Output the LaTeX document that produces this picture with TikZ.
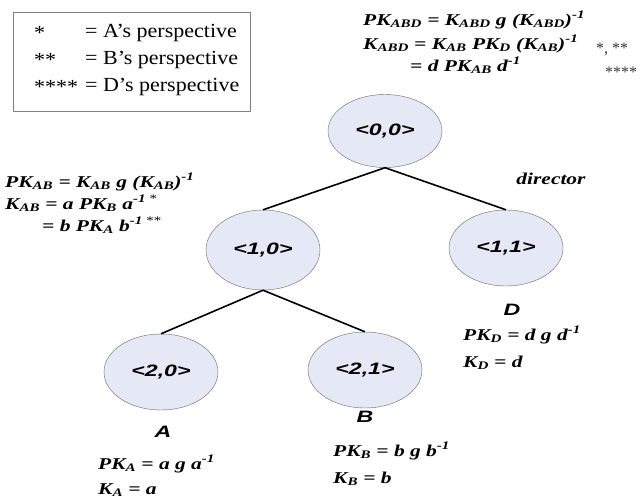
\documentclass[tikz,border=0pt]{standalone}
\usepackage{fontspec}
\setmainfont{Liberation Serif}
\newfontfamily\lblfont[FakeStretch=1.4]{Liberation Sans}
\newfontfamily\eqfont[FakeStretch=1.3]{Liberation Serif}
\newfontfamily\legfont[FakeStretch=1.1]{Liberation Serif}
\usetikzlibrary{shapes.geometric}
\definecolor{nodefill}{RGB}{228,233,245}
\definecolor{nodeedge}{RGB}{105,105,105}
\newcommand{\subx}[1]{\textsubscript{#1}}
\newcommand{\supx}[1]{\textsuperscript{#1}}
\tikzset{
  vnode/.style={ellipse, draw=nodeedge, fill=nodefill, minimum width=114, minimum height=76, inner sep=0,
    font=\lblfont\bfseries\itshape\fontsize{16.5}{18}\selectfont},
  who/.style={inner sep=0, font=\lblfont\bfseries\itshape\fontsize{16.5}{18}\selectfont},
  eq/.style={inner sep=0, anchor=base west, font=\eqfont\bfseries\itshape\fontsize{16.5}{19}\selectfont},
  star/.style={inner sep=0, anchor=west, text=black!80, font=\rmfamily\fontsize{16}{18}\selectfont},
  legtext/.style={inner sep=0, anchor=west, font=\legfont\fontsize{20}{24}\selectfont},
  edge/.style={line width=1.6pt}
}
\begin{document}
\begin{tikzpicture}[x=1pt, y=-1pt]
\useasboundingbox (0,0) rectangle (641,499);

% Legend
\draw[gray, line width=0.8pt] (13,12) rectangle (250,111);
\node[legtext] (s1) at (34,33) {*};
\node[legtext] (s2) at (34,60) {**};
\node[legtext] (s4) at (34,87) {****};
\node[legtext] (l1) at (85,33) {= A’s perspective};
\node[legtext] (l2) at (85,60) {= B’s perspective};
\node[legtext] (l4) at (85,87) {= D’s perspective};

% Tree nodes
\node[vnode, minimum height=73] (n00) at (385,131) {<0,0>};
\node[vnode, minimum height=80] (n10) at (263,250) {<1,0>};
\node[vnode] (n11) at (506,248) {<1,1>};
\node[vnode] (n20) at (161,372) {<2,0>};
\node[vnode] (n21) at (365,370) {<2,1>};

\draw[edge] (n00.south) -- (n10.north);
\draw[edge] (n00.south) -- (n11.north);
\draw[edge] (n10.south) -- (n20.north);
\draw[edge] (n10.south) -- (n21.north);

% Key of the root
\node[eq] (r1) at (363,25) {PK\subx{ABD} = K\subx{ABD} g (K\subx{ABD})\supx{-1}};
\node[eq] (r2) at (363,49) {K\subx{ABD} = K\subx{AB} PK\subx{D} (K\subx{AB})\supx{-1}};
\node[eq] (r3) at (410,71) {= d PK\subx{AB} d\supx{-1}};
\node[star] (r2s) at (596,49) {*, **};
\node[star] (r3s) at (605,72) {****};

% Key of <1,0>
\node[eq] (m1) at (5,187) {PK\subx{AB} = K\subx{AB} g (K\subx{AB})\supx{-1}};
\node[eq] (m2) at (5,209) {K\subx{AB} = a PK\subx{B} a\supx{-1}\,\textsuperscript{\mdseries *}};
\node[eq] (m3) at (42,231) {= b PK\subx{A} b\supx{-1}\,\textsuperscript{\mdseries **}};

\node[eq, anchor=center] (dir) at (551,179) {director};

% Leaves
\node[who] (la) at (163,432) {A};
\node[eq] (a1) at (98,469) {PK\subx{A} = a g a\supx{-1}};
\node[eq] (a2) at (98,494) {K\subx{A} = a};

\node[who] (lb) at (365,417) {B};
\node[eq] (b1) at (333,456) {PK\subx{B} = b g b\supx{-1}};
\node[eq] (b2) at (333,483) {K\subx{B} = b};

\node[who] (ld) at (512,310) {D};
\node[eq] (d1) at (463,340) {PK\subx{D} = d g d\supx{-1}};
\node[eq] (d2) at (463,367) {K\subx{D} = d};
\end{tikzpicture}
\end{document}
